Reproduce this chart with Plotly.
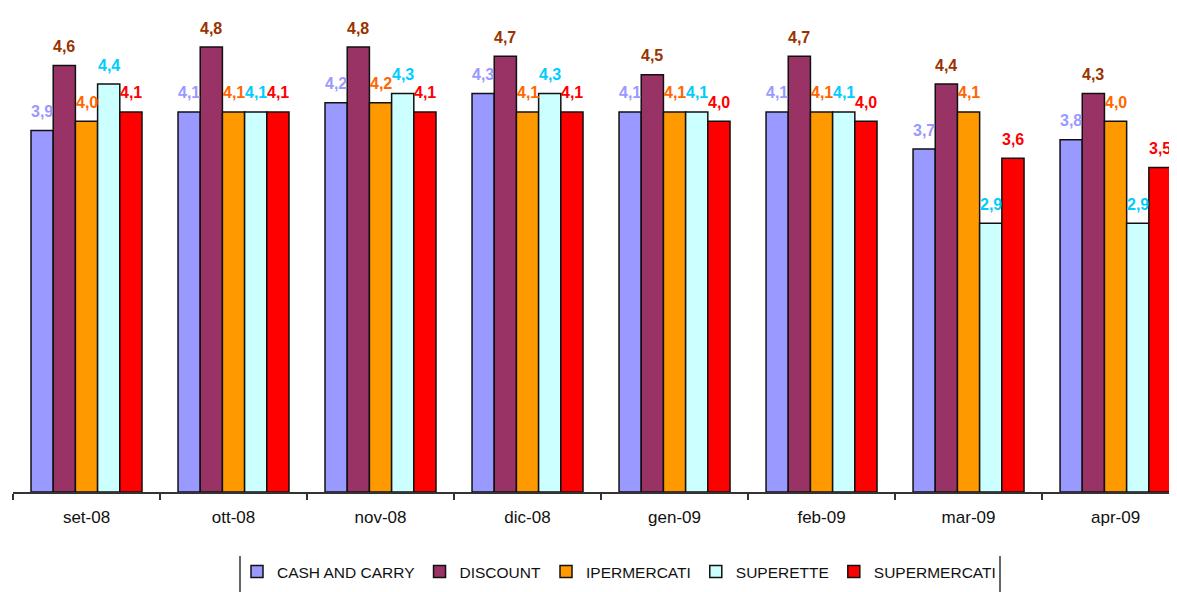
import plotly.graph_objects as go

months = ["set-08", "ott-08", "nov-08", "dic-08", "gen-09", "feb-09", "mar-09", "apr-09"]
series_names = ["CASH AND CARRY", "DISCOUNT", "IPERMERCATI", "SUPERETTE", "SUPERMERCATI"]

cash_and_carry = [3.9, 4.1, 4.2, 4.3, 4.1, 4.1, 3.7, 3.8]
discount = [4.6, 4.8, 4.8, 4.7, 4.5, 4.7, 4.4, 4.3]
ipermercati = [4.0, 4.1, 4.2, 4.1, 4.1, 4.1, 4.1, 4.0]
superette = [4.4, 4.1, 4.3, 4.3, 4.1, 4.1, 2.9, 2.9]
supermercati = [4.1, 4.1, 4.1, 4.1, 4.0, 4.0, 3.6, 3.5]

all_values = [cash_and_carry, discount, ipermercati, superette, supermercati]
bar_colors = ["#9999FF", "#993366", "#FF9900", "#CCFFFF", "#FF0000"]
label_colors = ["#9999FF", "#993300", "#FF6600", "#00CCFF", "#FF0000"]

# the page body adds an 8px offset; the figure is sized to fill the rest of the window
OFF = 8
W, H = 1177 - OFF, 592 - OFF
PLOT_L, PLOT_B = 13, 492          # plot-area left edge / baseline in window pixels
PX_PER_UNIT = 92.7

bargap = 0.245
n_series = len(all_values)
bar_w = (1 - bargap) / n_series

fig = go.Figure()
for name, vals, col in zip(series_names, all_values, bar_colors):
    fig.add_trace(go.Bar(
        name=name, x=months, y=vals,
        marker=dict(color=col, line=dict(color="#111111", width=1.5)),
    ))

annotations = []
for j, (vals, lc) in enumerate(zip(all_values, label_colors)):
    for i, v in enumerate(vals):
        annotations.append(dict(
            x=i + (j - (n_series - 1) / 2) * bar_w, y=v, xref="x", yref="y",
            text=f"{v:.1f}".replace(".", ","), showarrow=False,
            yanchor="middle", yshift=19,
            font=dict(family="Liberation Sans, Arial, sans-serif", size=16, color=lc, weight="bold"),
        ))

plot_h = PLOT_B - OFF
plot_w = W - (PLOT_L - OFF)

def px_x(x):
    return (x - PLOT_L) / plot_w

def px_y(y):
    return (PLOT_B - y) / plot_h

fig.update_layout(
    width=W, height=H,
    margin=dict(l=PLOT_L - OFF, r=0, t=0, b=H - plot_h),
    paper_bgcolor="white", plot_bgcolor="white",
    barmode="group", bargap=bargap, bargroupgap=0,
    showlegend=True,
    legend=dict(
        orientation="h", xref="container", yref="container",
        x=(619 - OFF) / W, xanchor="center", y=(H - (572 - OFF)) / H, yanchor="middle",
        font=dict(family="Liberation Sans, Arial, sans-serif", size=15.5, color="#111111"),
        itemwidth=30, bgcolor="rgba(0,0,0,0)",
    ),
    annotations=annotations,
    shapes=[
        dict(type="line", xref="paper", yref="paper",
             x0=px_x(240), x1=px_x(240), y0=px_y(556), y1=px_y(600),
             line=dict(color="#333333", width=1.5)),
        dict(type="line", xref="paper", yref="paper",
             x0=px_x(1000), x1=px_x(1000), y0=px_y(556), y1=px_y(600),
             line=dict(color="#333333", width=1.5)),
    ],
)

fig.update_xaxes(
    type="category", range=[-0.5, 7.418],
    tickson="boundaries", ticks="outside", ticklen=6, tickcolor="#333333", tickwidth=1.5,
    showline=True, linecolor="#333333", linewidth=1.5,
    showgrid=False, ticklabelstandoff=9,
    tickfont=dict(family="Liberation Sans, Arial, sans-serif", size=17, color="#111111"),
)
fig.update_yaxes(visible=False, range=[0, plot_h / PX_PER_UNIT], showgrid=False, zeroline=False)

fig.write_html("out.html")
